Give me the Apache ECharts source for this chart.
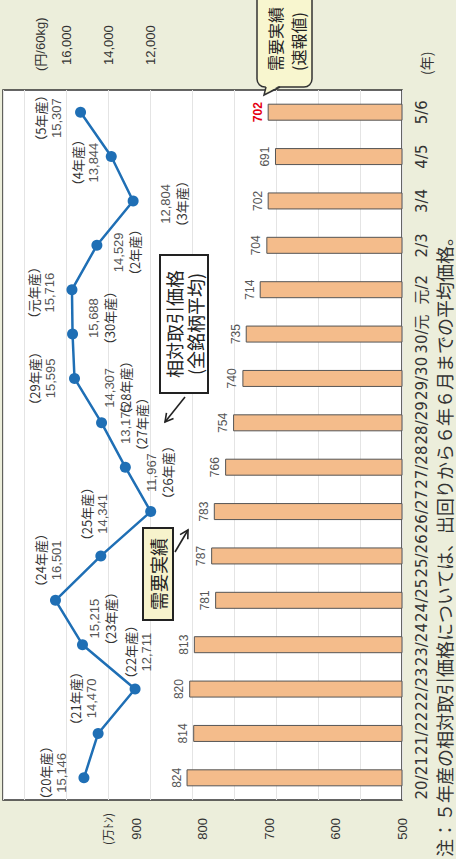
<!DOCTYPE html>
<html>
<head>
<meta charset="utf-8">
<script src="https://cdn.jsdelivr.net/npm/echarts@6.0.0/dist/echarts.min.js"></script>
<style>
html, body { margin: 0; padding: 0; width: 456px; height: 859px; overflow: hidden; background: #eceedb; }
/* chart is drawn upright, then turned to read bottom-to-top like the printed figure */
#chart { position: absolute; left: 0; top: 0; width: 859px; height: 456px; transform-origin: 0 0; transform: translate(0, 859px) rotate(-90deg); }
</style>
</head>
<body>
<div id="chart"></div>
<script>
// 年次（需要実績の年度）
var categories = ['20/21', '21/22', '22/23', '23/24', '24/25', '25/26', '26/27', '27/28', '28/29', '29/30', '30/元', '元/2', '2/3', '3/4', '4/5', '5/6'];
// 需要実績（万トン）
var demand = [824, 814, 820, 813, 781, 787, 783, 766, 754, 740, 735, 714, 704, 702, 691, 702];
// 相対取引価格（円/60kg）と産年
var cropYears = ['20', '21', '22', '23', '24', '25', '26', '27', '28', '29', '30', '元', '2', '3', '4', '5'];
var prices = [15146, 14470, 12711, 15215, 16501, 14341, 11967, 13175, 14307, 15595, 15688, 15716, 14529, 12804, 13844, 15307];
// 目盛ラベル
var demandTicks = [500, 600, 700, 800, 900];
var priceTicks = [12000, 14000, 16000];

// ラベル配置 [dx, dy, 産年を上に書くか]
var labelPlace = [
    [5, -30, true], [35, -15, true], [37, 3, true], [26, 20, false],
    [40, -7, true], [42, -6, true], [39, 9, false], [43, 8, false],
    [35, 16, false], [0, -32, true], [16, 29, false], [-3, -30, true],
    [-7, 30, false], [-3, 40, false], [-6, -26, true], [-6, -32, true]
];

var FONT = "'Liberation Sans', 'Noto Sans CJK JP', sans-serif";
var JP = "'Noto Sans CJK JP', sans-serif";

function fmt(v) { return v.toLocaleString('en-US'); }

var lineData = prices.map(function (v, i) {
    var p = labelPlace[i];
    var yr = '{y|（' + cropYears[i] + '年産）}';
    var val = '{v|' + fmt(v) + '}';
    return {
        value: v,
        label: {
            offset: [p[0], p[1]],
            formatter: p[2] ? yr + '\n' + val : val + '\n' + yr
        }
    };
});

var barData = demand.map(function (v, i) {
    if (i === demand.length - 1) {
        return { value: v, label: { color: '#e60012', fontWeight: 'bold' } };
    }
    return v;
});

function arrow(x1, y1, x2, y2) {
    var dx = x2 - x1, dy = y2 - y1, len = Math.sqrt(dx * dx + dy * dy);
    var ux = dx / len, uy = dy / len, hl = 8, hw = 4.5;
    var bx = x2 - ux * hl, by = y2 - uy * hl;
    return [
        { type: 'line', shape: { x1: x1, y1: y1, x2: x2, y2: y2 }, style: { stroke: '#222', lineWidth: 1.6 } },
        { type: 'polyline', shape: { points: [[bx - uy * hw, by + ux * hw], [x2, y2], [bx + uy * hw, by - ux * hw]] }, style: { stroke: '#222', lineWidth: 1.6, fill: null } }
    ];
}

function txt(x, y, s, size, align, color, family) {
    return {
        type: 'text', x: x, y: y, z: 100,
        style: {
            text: s, fontSize: size, fontFamily: family || FONT, fill: color || '#333',
            align: align || 'center', verticalAlign: 'middle',
            textAlign: align || 'center', textVerticalAlign: 'middle'
        }
    };
}

var graphics = [
    // 吹き出し「需要実績（速報値）」
    { type: 'rect', z: 90, shape: { x: 772, y: 257, width: 110, height: 55, r: 8 }, style: { fill: '#f8f6cf', stroke: '#333', lineWidth: 1.5 } },
    { type: 'polygon', z: 91, shape: { points: [[774, 266], [764, 264], [774, 280]] }, style: { fill: '#f8f6cf' } },
    { type: 'polyline', z: 92, shape: { points: [[772, 266], [764, 264], [772, 280]] }, style: { stroke: '#333', lineWidth: 1.5, fill: null } },
    txt(788, 275, '需要実績', 16, 'left', '#222', JP),
    txt(788, 298, '(速報値)', 16, 'left', '#222', JP),
    // 「需要実績」枠
    { type: 'rect', z: 90, shape: { x: 239, y: 143, width: 92, height: 30 }, style: { fill: '#f7f3cc', stroke: '#222', lineWidth: 2 } },
    txt(285, 158, '需要実績', 18, 'center', '#222', JP),
    // 「相対取引価格」枠
    { type: 'rect', z: 90, shape: { x: 466, y: 160, width: 138, height: 48 }, style: { fill: '#fff', stroke: '#222', lineWidth: 2 } },
    txt(535, 174, '相対取引価格', 18, 'center', '#222', JP),
    txt(535, 195, '(全銘柄平均)', 18, 'center', '#222', JP),
    // 軸の単位・注記
    txt(30, 107, '(万ﾄﾝ)', 12, 'center', '#333', JP),
    txt(788, 40, '(円/60kg)', 13, 'left', '#333'),
    txt(784, 426, '(年)', 14, 'left', '#333', JP),
    txt(2, 444, '注：５年産の相対取引価格については、出回りから６年６月までの平均価格。', 18, 'left', '#333', JP)
].concat(arrow(307, 175, 329, 188)).concat(arrow(462, 185, 437, 165));

var chart = echarts.init(document.getElementById('chart'), null, { renderer: 'svg' });

var option = {
    backgroundColor: '#eceedb',
    textStyle: { fontFamily: FONT },
    animation: false,
    grid: {
        left: 59, right: 90, top: 3, bottom: 54,
        show: true, backgroundColor: '#fff', borderColor: '#333', borderWidth: 1.5
    },
    xAxis: {
        type: 'category',
        data: categories,
        axisLine: { show: false },
        axisTick: { show: false },
        axisLabel: { interval: 0, margin: 12, fontSize: 15, fontFamily: "'DejaVu Sans', 'Noto Sans CJK JP', sans-serif", color: '#333' }
    },
    yAxis: [{
        type: 'value',
        min: 500, max: 1100, interval: 100,
        axisLine: { show: false }, axisTick: { show: false },
        splitLine: { show: false },
        axisLabel: {
            margin: 18, fontSize: 13, color: '#333',
            formatter: function (v) { return demandTicks.indexOf(v) >= 0 ? String(v) : ''; }
        }
    }, {
        type: 'value',
        position: 'right',
        min: 0, max: 19000, interval: 2000,
        axisLine: { show: false }, axisTick: { show: false },
        splitLine: { show: true, lineStyle: { color: '#e4e4e4', width: 1 } },
        axisLabel: {
            margin: 25, fontSize: 13, color: '#333',
            formatter: function (v) { return priceTicks.indexOf(v) >= 0 ? fmt(v) : ''; }
        }
    }],
    series: [{
        name: '需要実績',
        type: 'bar',
        yAxisIndex: 0,
        data: barData,
        barWidth: 17,
        itemStyle: { color: '#f4bc8b', borderColor: '#555', borderWidth: 1 },
        label: { show: true, position: 'top', distance: 4, fontSize: 12, color: '#555' }
    }, {
        name: '相対取引価格',
        type: 'line',
        yAxisIndex: 1,
        data: lineData,
        symbol: 'circle',
        symbolSize: 11,
        lineStyle: { color: '#1f6fb5', width: 2.5 },
        itemStyle: { color: '#1f6fb5' },
        z: 5,
        label: {
            show: true,
            position: 'inside',
            align: 'center',
            verticalAlign: 'middle',
            rich: {
                y: { fontSize: 13, lineHeight: 16, color: '#333', fontFamily: JP },
                v: { fontSize: 13, lineHeight: 16, color: '#555', fontFamily: FONT }
            }
        }
    }],
    graphic: graphics
};

chart.setOption(option);
</script>
</body>
</html>
